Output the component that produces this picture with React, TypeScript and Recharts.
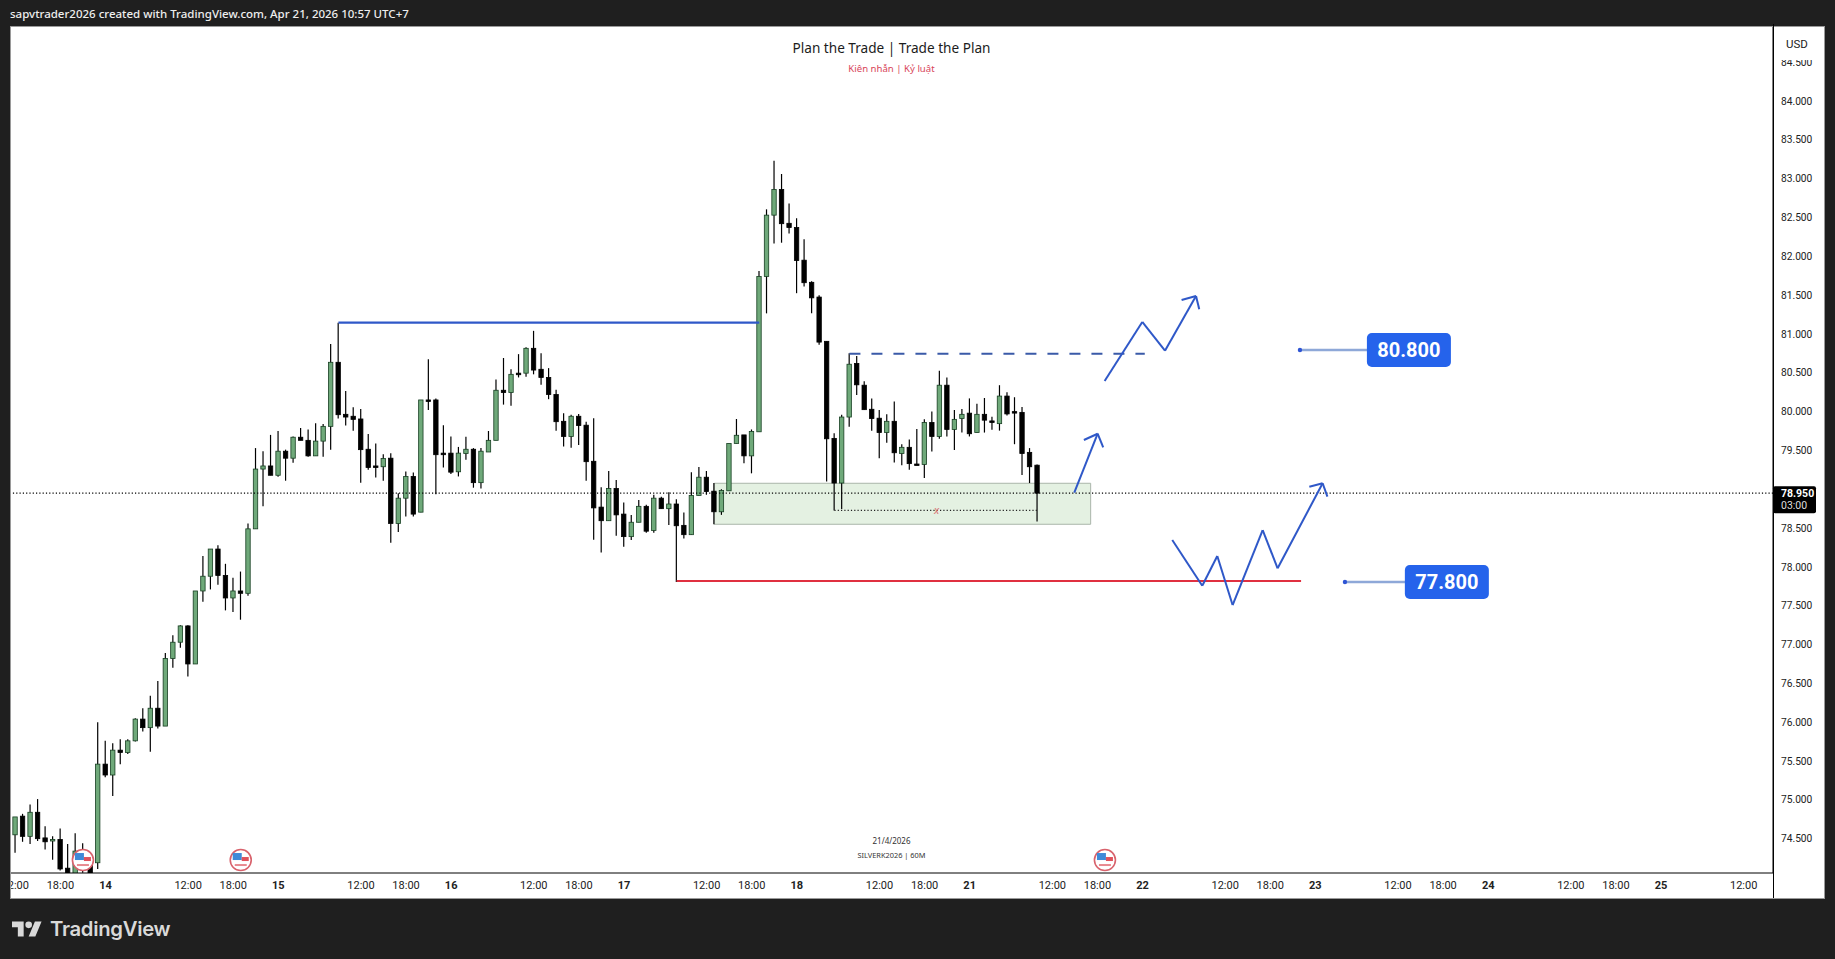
import {
  Bar,
  ComposedChart,
  ReferenceArea,
  ReferenceDot,
  ReferenceLine,
  XAxis,
  YAxis,
} from "recharts";

// Hourly candles
const opens = [
  74.55, 74.79, 74.53, 74.84, 74.51, 74.47, 74.49, 74.12, 73.95, 74.25, 74.2, 74.19, 75.46, 75.32, 75.64, 75.61, 75.76,
  76.04, 75.93, 76.18, 75.95, 76.82, 77.03, 77.24, 76.75, 77.69, 77.88, 78.23, 77.89, 77.6, 77.69, 77.66, 78.49, 79.26,
  79.3, 79.18, 79.49, 79.4, 79.67, 79.63, 79.43, 79.62, 79.81, 80.635, 79.965, 79.94, 79.905, 79.515, 79.3, 79.29, 79.4,
  78.56, 78.885, 79.165, 78.705, 80.15, 80.15, 79.465, 79.465, 79.225, 79.46, 79.515, 79.085, 79.48, 79.63, 80.275,
  80.245, 80.495, 80.495, 80.815, 80.545, 80.44, 80.22, 79.875, 79.68, 79.94, 79.825, 79.36, 78.77, 78.595, 79.01,
  78.68, 78.39, 78.575, 78.78, 78.47, 78.885, 78.75, 78.81, 78.535, 78.415, 78.92, 79.155, 78.975, 78.71, 78.98, 79.59,
  79.7, 79.43, 79.74, 81.74, 82.53, 82.86, 82.425, 82.37, 81.95, 81.665, 81.475, 80.905, 79.655, 79.08, 79.93, 80.62,
  80.34, 80.03, 79.915, 79.73, 79.875, 79.46, 79.54, 79.325, 79.32, 79.86, 79.68, 80.34, 79.77, 79.91, 79.98, 79.73,
  79.965, 79.88, 79.845, 80.2, 80.0, 79.99, 79.475, 79.31,
];
const highs = [
  74.78, 74.82, 74.94, 75.01, 74.66, 74.53, 74.63, 74.43, 74.57, 74.44, 74.25, 76.0, 75.76, 75.73, 75.78, 75.78, 76.05,
  76.18, 76.34, 76.53, 76.89, 77.12, 77.25, 77.25, 77.69, 78.14, 78.23, 78.28, 78.04, 77.86, 77.94, 78.56, 79.53, 79.49,
  79.7, 79.75, 79.51, 79.68, 79.79, 79.77, 79.85, 79.84, 80.87, 81.145, 80.265, 80.055, 80.035, 79.71, 79.59, 79.45,
  79.465, 78.95, 79.23, 79.215, 80.15, 80.675, 80.17, 79.825, 79.68, 79.545, 79.675, 79.53, 79.53, 79.75, 80.415, 80.69,
  80.545, 80.74, 80.83, 81.04, 80.75, 80.56, 80.28, 79.98, 79.96, 79.97, 79.87, 79.915, 79.025, 79.235, 79.12, 78.83,
  78.67, 78.86, 78.8, 78.93, 78.905, 78.96, 78.87, 78.7, 79.22, 79.285, 79.235, 79.08, 79.0, 79.59, 79.905, 79.7, 79.77,
  81.81, 82.605, 83.23, 83.06, 82.68, 82.49, 82.22, 81.68, 81.5, 80.905, 79.72, 79.96, 80.75, 80.715, 80.39, 80.17,
  80.02, 79.965, 80.13, 79.58, 79.64, 79.775, 79.9, 80.0, 80.525, 80.44, 80.02, 80.035, 80.17, 80.1, 80.175, 79.935,
  80.34, 80.25, 80.185, 80.06, 79.53, 79.32,
];
const lows = [
  74.32, 74.46, 74.43, 74.47, 74.36, 74.23, 74.09, 73.95, 73.9, 74.06, 73.95, 74.11, 75.29, 75.05, 75.46, 75.59, 75.75,
  75.88, 75.62, 75.92, 75.95, 76.7, 76.96, 76.59, 76.75, 77.55, 77.71, 77.77, 77.44, 77.42, 77.32, 77.63, 78.49, 78.78,
  79.18, 79.16, 79.11, 79.34, 79.63, 79.42, 79.43, 79.42, 79.51, 79.91, 79.82, 79.755, 79.085, 79.25, 79.15, 79.11,
  78.31, 78.45, 78.65, 78.65, 78.705, 80.02, 78.935, 79.28, 79.195, 79.165, 79.38, 79.02, 79.01, 79.48, 79.63, 80.09,
  80.075, 80.44, 80.45, 80.48, 80.345, 80.16, 79.755, 79.55, 79.535, 79.57, 79.11, 78.35, 78.185, 78.595, 78.4, 78.26,
  78.345, 78.575, 78.44, 78.44, 78.75, 78.54, 77.805, 78.365, 78.415, 78.92, 78.93, 78.55, 78.67, 78.98, 79.59, 79.335,
  79.205, 79.74, 81.265, 82.165, 82.175, 82.295, 81.525, 81.61, 81.265, 80.86, 79.1, 78.725, 78.745, 79.805, 80.215,
  80.025, 79.755, 79.4, 79.6, 79.345, 79.31, 79.25, 79.31, 79.145, 79.485, 79.65, 79.68, 79.505, 79.73, 79.68, 79.73,
  79.73, 79.765, 79.755, 79.95, 79.58, 79.185, 79.08, 78.585,
];
const closes = [
  74.78, 74.53, 74.84, 74.5, 74.46, 74.49, 74.11, 74.0, 74.34, 74.12, 73.98, 75.46, 75.32, 75.64, 75.61, 75.76, 76.04,
  75.93, 76.18, 75.95, 76.82, 77.03, 77.24, 76.75, 77.69, 77.88, 78.23, 77.89, 77.6, 77.69, 77.66, 78.49, 79.26, 79.3,
  79.18, 79.49, 79.4, 79.67, 79.63, 79.43, 79.62, 79.81, 80.635, 79.96, 79.93, 79.9, 79.51, 79.28, 79.28, 79.395, 78.56,
  78.885, 79.165, 78.68, 80.15, 80.14, 79.445, 79.445, 79.22, 79.465, 79.515, 79.085, 79.49, 79.63, 80.275, 80.245,
  80.48, 80.475, 80.815, 80.535, 80.44, 80.22, 79.87, 79.68, 79.94, 79.82, 79.355, 78.76, 78.595, 79.01, 78.67, 78.39,
  78.575, 78.78, 78.46, 78.885, 78.75, 78.81, 78.53, 78.415, 78.92, 79.155, 78.97, 78.71, 78.985, 79.59, 79.695, 79.43,
  79.745, 81.74, 82.53, 82.86, 82.42, 82.37, 81.945, 81.66, 81.465, 80.895, 79.65, 79.08, 79.93, 80.61, 80.345, 80.025,
  79.91, 79.73, 79.875, 79.47, 79.54, 79.33, 79.31, 79.86, 79.68, 80.34, 79.77, 79.9, 79.965, 79.715, 79.965, 79.89,
  79.86, 80.2, 79.97, 79.985, 79.46, 79.29, 78.95,
];

// 79.000 sits under the last price tag in the picture, so it is left out
const priceTicks = [74.5, 75, 75.5, 76, 76.5, 77, 77.5, 78, 78.5, 79.5, 80, 80.5, 81, 81.5, 82, 82.5, 83, 83.5, 84, 84.5];
const timeTickBars = [
  0, 6, 12, 23, 29, 35, 46, 52, 58, 69, 75, 81, 92, 98, 104, 115, 121, 127, 138, 144, 150, 161, 167, 173, 184, 190, 196,
  207, 213, 219, 230,
];
const timeTickLabels = [
  "12:00", "18:00", "14", "12:00", "18:00", "15", "12:00", "18:00", "16", "12:00", "18:00", "17", "12:00", "18:00", "18",
  "12:00", "18:00", "21", "12:00", "18:00", "22", "12:00", "18:00", "23", "12:00", "18:00", "24", "12:00", "18:00", "25",
  "12:00",
];

// Drawings on the chart, as [bar, price]
const breakLevel = [[43, 81.145], [99, 81.145]];
const dashedLevel = [[111, 80.746], [150.3, 80.746]];
const stopLevel = [[88, 77.82], [171.1, 77.82]];
const sweepLevel = [[109, 78.729], [136, 78.729]];
const upperPath = [[144.96, 80.394], [149.97, 81.154], [152.99, 80.784], [157.12, 81.489]];
const upperHead = [[155.2, 81.437], [157.12, 81.489], [157.55, 81.317]];
const shortPath = [[140.92, 78.956], [144.03, 79.715]];
const shortHead = [[142.2, 79.634], [144.03, 79.715], [144.77, 79.54]];
const lowerPath = [
  [153.96, 78.346], [157.95, 77.758], [159.95, 78.14], [161.99, 77.509], [165.99, 78.475], [167.98, 77.982], [173.97, 79.077],
];
const lowerHead = [[172.2, 79.033], [173.97, 79.077], [174.6, 78.904]];
const zoneBars = [93, 143.1];
const zonePrices = [78.549, 79.077];
const flagBars = [9, 30, 145];
const flagPrice = 74.225;
const levelNames = ["80.800", "77.800"];
const levelPrices = [80.793, 77.805];
const levelDotBars = [170.95, 176.94];
const levelBoxBars = [185.45, 190.5];
const lastPrice = 78.95;

const X_DOMAIN = [-0.572, 233.9];
const Y_DOMAIN = [74.058, 84.953];
const BLUE = "#2f58c8";
const FONT = "Roboto, sans-serif";

const candles = opens.map((open, i) => ({
  i,
  open,
  close: closes[i],
  range: [lows[i], highs[i]],
}));

function Candle(props: any) {
  const { x, y, width, height, payload } = props;
  const [low, high] = payload.range;
  const perUnit = height / (high - low);
  const top = y + (high - Math.max(payload.open, payload.close)) * perUnit;
  const bodyH = Math.max(Math.abs(payload.open - payload.close) * perUnit, 1.5);
  const up = payload.close >= payload.open;
  const cx = x + width / 2;
  return (
    <g>
      <line x1={cx} x2={cx} y1={y} y2={y + height} stroke="#000" strokeWidth={1.2} />
      <rect
        x={cx - 2.2}
        y={top}
        width={4.4}
        height={bodyH}
        fill={up ? "#6fa97a" : "#000"}
        stroke={up ? "#173f22" : "#000"}
        strokeWidth={0.8}
      />
    </g>
  );
}

function TimeTick({ x, y, index }: any) {
  const label = timeTickLabels[index];
  const isDay = !label.includes(":");
  return (
    <text
      x={x}
      y={y}
      dy={8}
      textAnchor="middle"
      fontFamily={FONT}
      fontSize={11}
      fontWeight={isDay ? 700 : 400}
      fill="#222"
    >
      {label}
    </text>
  );
}

function Flag({ cx, cy }: any) {
  return (
    <g>
      <circle cx={cx} cy={cy} r={10.5} fill="#fff" stroke="#d8626c" strokeWidth={1.6} />
      <rect x={cx - 8} y={cy - 7} width={9} height={7} fill="#3f8ad8" />
      <rect x={cx + 1} y={cy - 3} width={7} height={4} fill="#e0525c" />
      <rect x={cx - 6} y={cy + 4} width={12} height={2} fill="#e88a90" />
    </g>
  );
}

function LevelBox({ cx, cy, text }: any) {
  return (
    <g>
      <rect x={cx - 42} y={cy - 17} width={84} height={34} rx={5} fill="#2563eb" />
      <text x={cx} y={cy + 7} textAnchor="middle" fontFamily={FONT} fontSize={20} fontWeight={700} fill="#fff">
        {text}
      </text>
    </g>
  );
}

function LastPriceTag({ cx, cy }: any) {
  return (
    <g>
      <rect x={cx} y={cy - 7} width={43} height={27} rx={2} fill="#000" />
      <text x={cx + 8} y={cy + 4} fontFamily={FONT} fontSize={10.5} fontWeight={700} fill="#fff">
        78.950
      </text>
      <text x={cx + 8} y={cy + 16} fontFamily={FONT} fontSize={10.5} fill="#ddd">
        03:00
      </text>
    </g>
  );
}

function segments(points: number[][], stroke: string, strokeWidth: number, dash?: string) {
  return points.slice(1).map((p, k) => (
    <ReferenceLine
      key={`${stroke}-${p[0]}-${k}`}
      segment={[
        { x: points[k][0], y: points[k][1] },
        { x: p[0], y: p[1] },
      ]}
      stroke={stroke}
      strokeWidth={strokeWidth}
      strokeDasharray={dash}
    />
  ));
}

export default function App() {
  return (
    <div style={{ position: "fixed", left: 0, top: 0, width: 1835, height: 959, background: "#1f1f1f", overflow: "hidden" }}>
      <div
        style={{ position: "absolute", left: 10, top: 26, width: 1813, height: 871, background: "#fff", border: "1px solid #9a9a9a" }}
      />
      <div
        style={{ position: "absolute", left: 10, top: 6, color: "#eee", fontFamily: "'Noto Sans', sans-serif", fontSize: 11.5, lineHeight: "16px", fontWeight: 500, whiteSpace: "nowrap" }}
      >
        sapvtrader2026 created with TradingView.com, Apr 21, 2026 10:57 UTC+7
      </div>

      <div style={{ position: "absolute", left: 0, top: 0 }}>
        <ComposedChart
          width={1835}
          height={959}
          data={candles}
          margin={{ left: 11, right: 11, top: 27, bottom: 61 }}
        >
          <XAxis
            dataKey="i"
            type="number"
            domain={X_DOMAIN}
            allowDataOverflow
            ticks={timeTickBars}
            interval={0}
            height={25}
            tickLine={false}
            axisLine={{ stroke: "#000" }}
            tick={<TimeTick />}
          />
          <YAxis
            orientation="right"
            type="number"
            domain={Y_DOMAIN}
            allowDataOverflow
            ticks={priceTicks}
            interval={0}
            width={51}
            tickLine={false}
            tickSize={0}
            tickMargin={8}
            axisLine={{ stroke: "#000" }}
            tick={{ fontFamily: FONT, fontSize: 10.2, fill: "#222" }}
            tickFormatter={(v: number) => v.toFixed(3)}
          />

          <ReferenceArea
            x1={zoneBars[0]}
            x2={zoneBars[1]}
            y1={zonePrices[0]}
            y2={zonePrices[1]}
            fill="#e4f1e2"
            fillOpacity={1}
            stroke="#aab5aa"
          />
          <ReferenceLine y={lastPrice} stroke="#000" strokeWidth={1.3} strokeDasharray="1.2 2.1" />
          {segments(sweepLevel, "#222", 1.2, "1.2 2.1")}

          <Bar dataKey="range" barSize={5} shape={<Candle />} isAnimationActive={false} />

          {segments(breakLevel, BLUE, 2.2)}
          {segments(dashedLevel, "#3a5aa8", 2, "11 11")}
          {segments(stopLevel, "#e03040", 2)}
          {segments(upperPath, BLUE, 2)}
          {segments(upperHead, BLUE, 2)}
          {segments(shortPath, BLUE, 2)}
          {segments(shortHead, BLUE, 2)}
          {segments(lowerPath, BLUE, 2)}
          {segments(lowerHead, BLUE, 2)}

          {levelNames.map((name, k) => (
            <ReferenceLine
              key={name}
              segment={[
                { x: levelDotBars[k], y: levelPrices[k] },
                { x: levelBoxBars[k], y: levelPrices[k] },
              ]}
              stroke="#8ea8d8"
              strokeWidth={2.4}
            />
          ))}
          {levelNames.map((name, k) => (
            <ReferenceDot key={name} x={levelDotBars[k]} y={levelPrices[k]} r={2.2} fill="#2f55d4" stroke="none" />
          ))}
          {levelNames.map((name, k) => (
            <ReferenceDot
              key={name}
              x={levelBoxBars[k]}
              y={levelPrices[k]}
              shape={(p: any) => <LevelBox {...p} text={name} />}
            />
          ))}
          {flagBars.map((bar) => (
            <ReferenceDot key={bar} x={bar} y={flagPrice} shape={(p: any) => <Flag {...p} />} />
          ))}
          <ReferenceDot
            x={122.6}
            y={78.72}
            shape={(p: any) => (
              <text x={p.cx} y={p.cy + 3} textAnchor="middle" fontFamily={FONT} fontSize={11} fontStyle="italic" fill="#d9797a">
                x
              </text>
            )}
          />
          <ReferenceDot
            x={X_DOMAIN[1]}
            y={lastPrice}
            ifOverflow="visible"
            shape={(p: any) => <LastPriceTag {...p} />}
          />
        </ComposedChart>
      </div>

      {/* frame pieces laid over the chart */}
      <div style={{ position: "absolute", left: 0, top: 0, width: 10, height: 959, background: "#1f1f1f" }} />
      <div style={{ position: "absolute", left: 10, top: 27, width: 1, height: 870, background: "#9a9a9a" }} />
      <div style={{ position: "absolute", left: 1773, top: 24, width: 1, height: 874, background: "#000" }} />

      <div
        style={{ position: "absolute", left: 1778, top: 32, width: 38, height: 28, lineHeight: "24px", background: "#fff", textAlign: "center", color: "#222", fontFamily: FONT, fontSize: 11.5 }}
      >
        USD
      </div>

      <div
        style={{ position: "absolute", left: 0, width: 1783, top: 38, textAlign: "center", color: "#1c1c1c", fontFamily: "'Noto Sans', sans-serif", fontSize: 13.6, lineHeight: "20px" }}
      >
        Plan the Trade | Trade the Plan
      </div>
      <div
        style={{ position: "absolute", left: 0, width: 1783, top: 62, textAlign: "center", color: "#d8455a", fontFamily: "'Noto Sans', sans-serif", fontSize: 9.6, lineHeight: "14px" }}
      >
        Kiên nhẫn | Kỷ luật
      </div>
      <div
        style={{ position: "absolute", left: 0, width: 1783, top: 835, textAlign: "center", color: "#333", fontFamily: "'Noto Sans', sans-serif", fontSize: 8, lineHeight: "12px" }}
      >
        21/4/2026
      </div>
      <div
        style={{ position: "absolute", left: 0, width: 1783, top: 849, textAlign: "center", color: "#333", fontFamily: "'Noto Sans', sans-serif", fontSize: 7.4, lineHeight: "12px" }}
      >
        SILVERK2026 | 60M
      </div>

      <svg style={{ position: "absolute", left: 12, top: 921 }} width={30} height={16} viewBox="0 4 36 18">
        <path d="M14 22H7V11H0V4h14v18zM28 22h-8l7.5-18h8L28 22z" fill="#d9d9d9" />
        <circle cx={20} cy={8} r={4} fill="#d9d9d9" />
      </svg>
      <div
        style={{ position: "absolute", left: 50, top: 915, color: "#d9d9d9", fontFamily: "Inter, sans-serif", fontSize: 20.3, fontWeight: 600, lineHeight: "28px", letterSpacing: -0.3 }}
      >
        TradingView
      </div>
    </div>
  );
}
